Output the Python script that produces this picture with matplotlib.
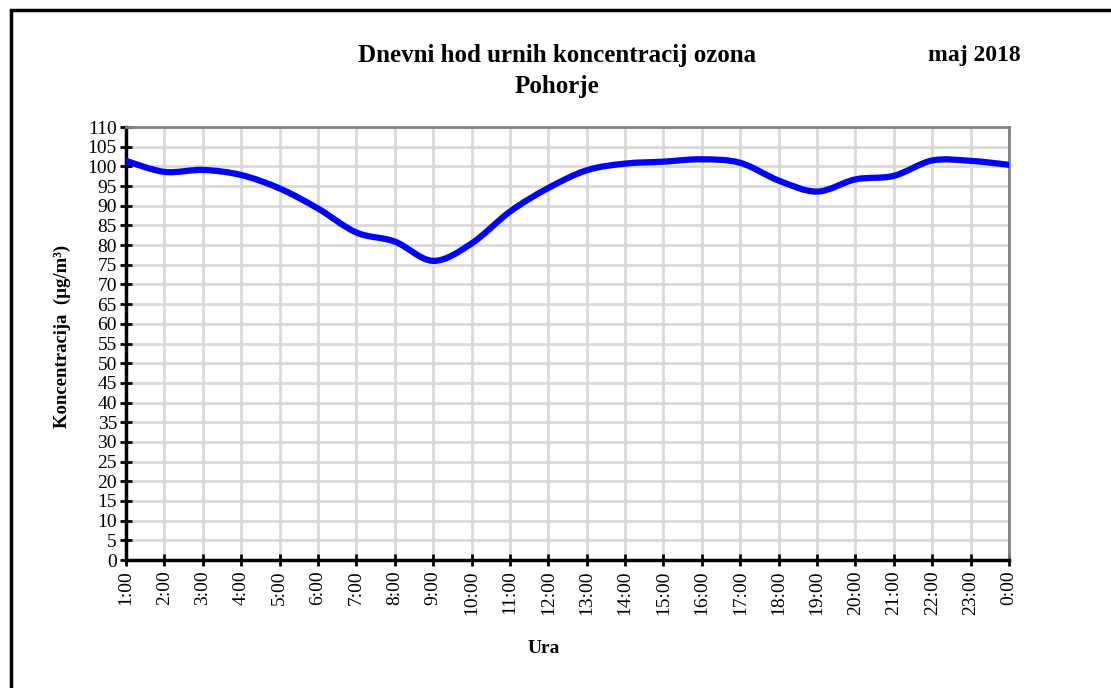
import numpy as np
import matplotlib.pyplot as plt
from matplotlib.path import Path
from matplotlib.patches import PathPatch, Rectangle

# hourly ozone concentration, Pohorje, May 2018
hours = ["1:00", "2:00", "3:00", "4:00", "5:00", "6:00", "7:00", "8:00",
         "9:00", "10:00", "11:00", "12:00", "13:00", "14:00", "15:00", "16:00",
         "17:00", "18:00", "19:00", "20:00", "21:00", "22:00", "23:00", "0:00"]
ozone = [101.4, 98.6, 99.1, 97.8, 94.4, 89.3, 83.2, 80.9,
         76.0, 80.4, 88.5, 94.5, 99.0, 100.7, 101.2, 101.8,
         100.9, 96.4, 93.6, 96.7, 97.6, 101.5, 101.4, 100.4]

plt.rcParams["font.family"] = ["Liberation Serif", "DejaVu Serif"]

fig = plt.figure(figsize=(11.11, 6.88), dpi=100)
ax = fig.add_axes([0.1134, 0.186, 0.7948, 0.6294])

x = np.arange(len(ozone))
y = np.array(ozone)

# smoothed line like a spreadsheet chart: cubic bezier segments
t = 1 / 6
verts = [(x[0], y[0])]
codes = [Path.MOVETO]
for i in range(len(x) - 1):
    x0, y0 = (x[i - 1], y[i - 1]) if i > 0 else (x[i], y[i])
    x3, y3 = (x[i + 2], y[i + 2]) if i + 2 < len(x) else (x[i + 1], y[i + 1])
    c1 = (x[i] + (x[i + 1] - x0) * t, y[i] + (y[i + 1] - y0) * t)
    c2 = (x[i + 1] - (x3 - x[i]) * t, y[i + 1] - (y3 - y[i]) * t)
    verts += [c1, c2, (x[i + 1], y[i + 1])]
    codes += [Path.CURVE4] * 3
ax.add_patch(PathPatch(Path(verts, codes), facecolor="none", edgecolor="#0000ff",
                       lw=4.5, capstyle="round", zorder=3))

ax.set_xlim(0, len(x) - 1)
ax.set_ylim(0, 110)
ax.set_xticks(x)
ax.set_xticklabels(hours, rotation=90, fontsize=14)
ax.set_yticks(np.arange(0, 111, 5))
ax.tick_params(axis="y", labelsize=14, direction="inout", length=9, width=2, pad=2)
ax.tick_params(axis="x", direction="inout", length=9, width=2, pad=3)
ax.grid(True, color="#d9d9d9", lw=2)
ax.set_axisbelow(True)

for s in ["left", "bottom"]:
    ax.spines[s].set_color("black")
    ax.spines[s].set_linewidth(2.5)
for s in ["top", "right"]:
    ax.spines[s].set_color("#808080")
    ax.spines[s].set_linewidth(2)

fig.text(0.056, 0.511, "Koncentracija  (µg/m³)", rotation=90, ha="center", va="center",
         fontsize=13.5, fontweight="bold")
fig.text(0.489, 0.058, "Ura", ha="center", va="center", fontsize=14, fontweight="bold")

fig.text(0.501, 0.920, "Dnevni hod urnih koncentracij ozona", ha="center", va="center",
         fontsize=18, fontweight="bold")
fig.text(0.501, 0.875, "Pohorje", ha="center", va="center", fontsize=18, fontweight="bold")
fig.text(0.877, 0.920, "maj 2018", ha="center", va="center", fontsize=17, fontweight="bold")

# outer chart frame (right and bottom edges fall outside the image)
fig.patches.append(Rectangle((11 / 1111, -0.05), 1.1, 1 - 10 / 688 + 0.05,
                             transform=fig.transFigure, fill=False,
                             edgecolor="black", lw=2.5))

fig.savefig("out.png", dpi=100)
